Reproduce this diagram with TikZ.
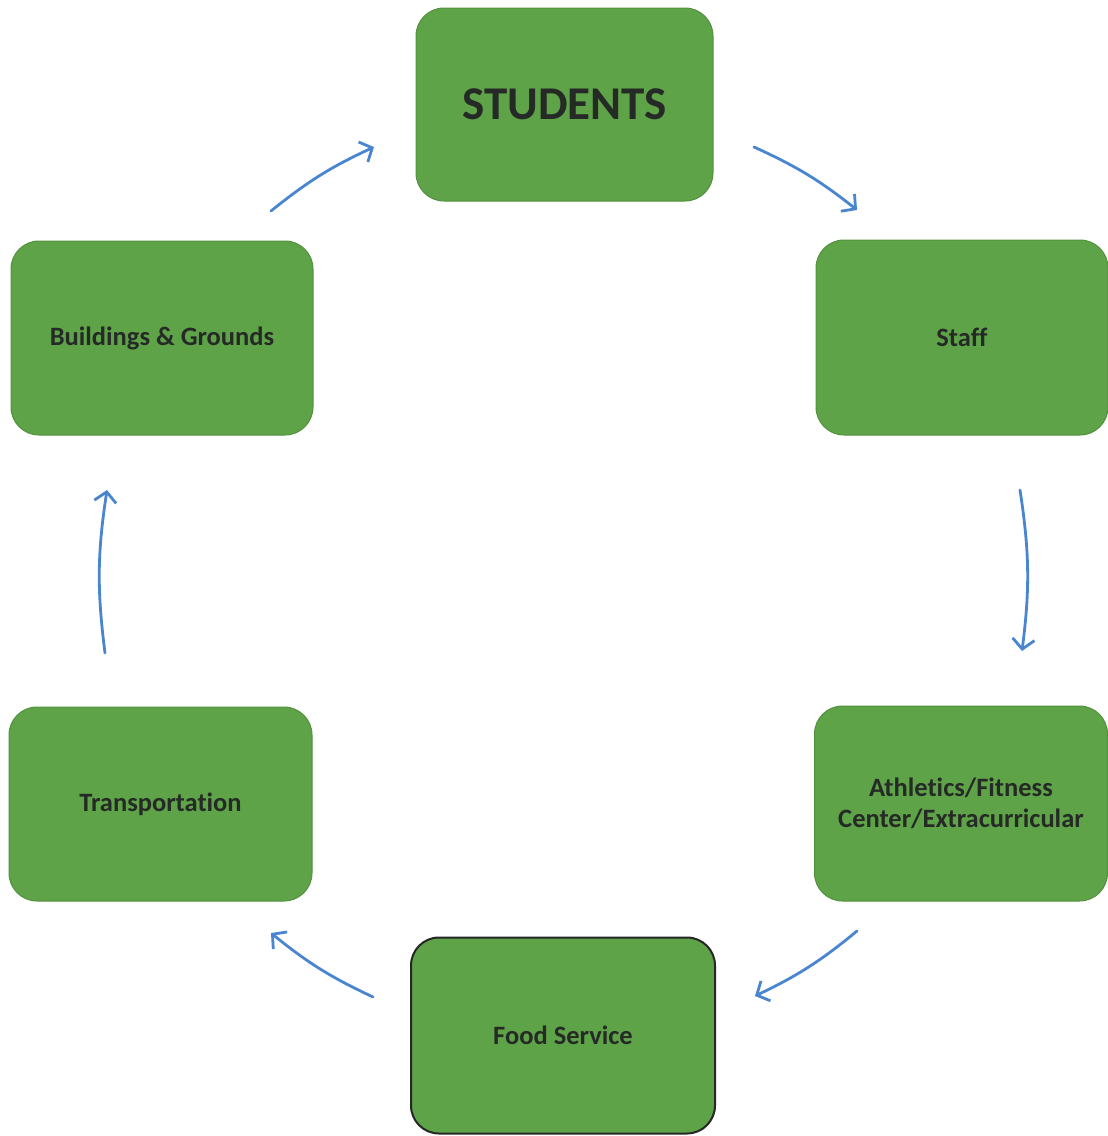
\documentclass[tikz,border=0pt]{standalone}
\usepackage{fontspec}
\setmainfont{Carlito}[Ligatures={NoCommon}]
\usetikzlibrary{arrows.meta}
\definecolor{boxgreen}{RGB}{94,163,72}
\definecolor{boxedge}{RGB}{82,145,62}
\definecolor{arrowblue}{RGB}{74,134,208}
\definecolor{txt}{RGB}{38,42,38}
\begin{document}
\begin{tikzpicture}[x=1pt,y=-1pt,
  box/.style={rectangle, rounded corners=28pt, fill=boxgreen, draw=boxedge, line width=1pt,
    text=txt, font=\bfseries\fontsize{26.5}{31}\selectfont, align=center,
    minimum width=297pt, minimum height=193pt, inner sep=0pt},
  flow/.style={arrowblue, line width=2.8pt, line cap=round,
    -{Straight Barb[length=10pt,width=22pt,line width=2.8pt]}}]
\fill[white] (0,0) rectangle (1108,1136);
\useasboundingbox (0,0) rectangle (1108,1136);

\node[box] (students) at (564.5,104.5) {\fontsize{47}{50}\selectfont STUDENTS};
\node[box, minimum width=292pt, minimum height=195pt] (staff) at (962,337.5) {Staff};
\node[box, minimum width=302pt, minimum height=194pt] (bg) at (162,338) {Buildings \& Grounds};
\node[box, minimum width=303pt, minimum height=194pt] (trans) at (160.5,804) {Transportation};
\node[box, minimum width=293pt, minimum height=195pt] (ath) at (961,803.5) {Athletics/Fitness\\Center/Extracurricular};
\node[box, draw=black!85, line width=2pt, minimum width=304pt, minimum height=196pt] (food) at (563,1035.5) {Food Service};

\coordinate (a1s) at (271,211); \coordinate (a1e) at (374,147);
\coordinate (a2s) at (754,147); \coordinate (a2e) at (857,210);
\coordinate (a3s) at (1020,490); \coordinate (a3e) at (1022,651);
\coordinate (a4s) at (857,931); \coordinate (a4e) at (755,996);
\coordinate (a5s) at (373,997); \coordinate (a5e) at (271,933);
\coordinate (a6s) at (105,653); \coordinate (a6e) at (107,490);

\draw[flow] (a1s) to[bend left=7] (a1e);
\draw[flow] (a2s) to[bend left=7] (a2e);
\draw[flow] (a3s) to[bend left=8] (a3e);
\draw[flow] (a4s) to[bend left=7] (a4e);
\draw[flow] (a5s) to[bend left=7] (a5e);
\draw[flow] (a6s) to[bend left=8] (a6e);
\end{tikzpicture}
\end{document}
